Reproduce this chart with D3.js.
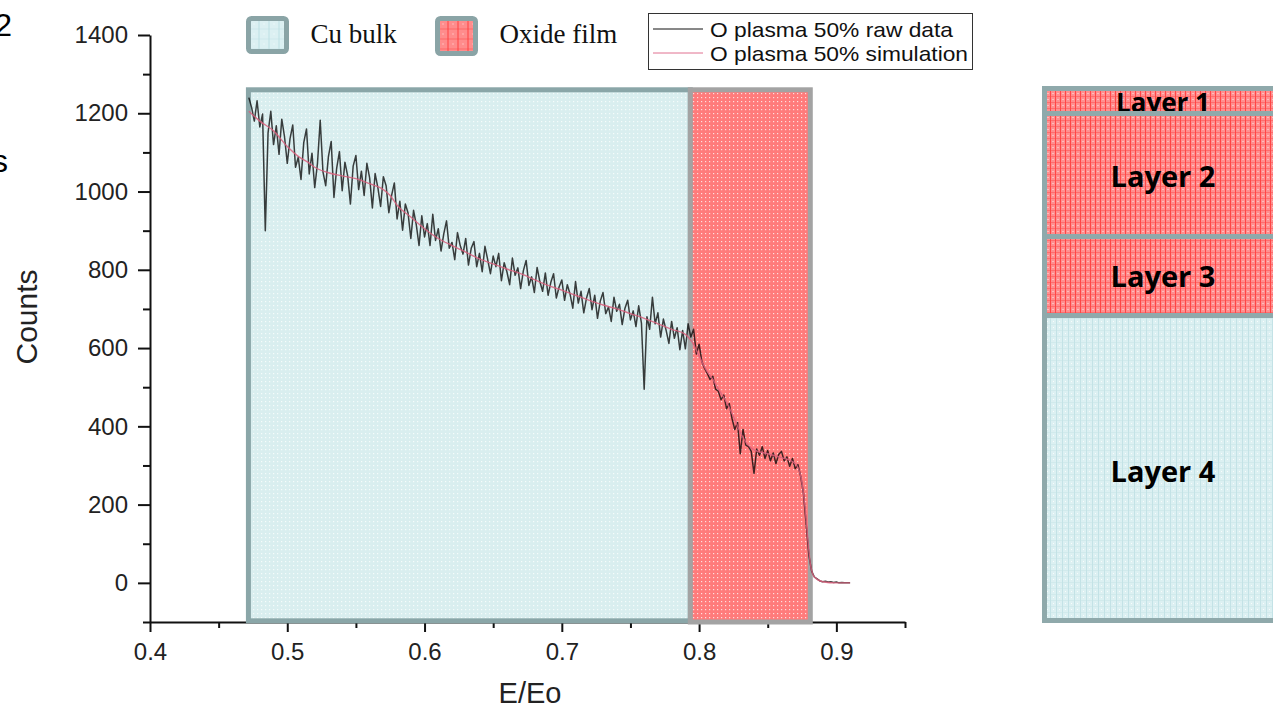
<!DOCTYPE html>
<html>
<head>
<meta charset="utf-8">
<script src="https://cdn.jsdelivr.net/npm/d3@7"></script>
<style>
html, body { margin: 0; padding: 0; background: #fff; overflow: hidden; }
svg { display: block; }
</style>
</head>
<body>
<svg id="chart" width="1273" height="710"></svg>
<script>
// raw spectrum, one value per channel (E/Eo step 0.002 starting at 0.472)
let rawStart = 0.472;
let rawStep = 0.002;
let rawCounts = [
    1240, 1215, 1180, 1232, 1165, 1198, 900, 1150, 1205, 1120, 1168, 1095, 1185, 1140, 1072,
    1135, 1170, 1062, 1088, 1031, 1125, 1160, 1045, 1098, 1010, 1072, 1182, 1050, 1015, 1090, 1128, 985, 1060, 1102, 1002, 1075, 1040, 968, 1065, 1092,
    1005, 1052, 990, 1072, 1035, 958, 1046, 1010, 962, 1038, 1015, 946, 990, 1022, 930, 975, 901, 968, 945, 880, 952, 915, 862, 938, 884,
    918, 862, 942, 875, 905, 848, 892, 925, 855, 870, 826, 895, 862, 840, 880, 812, 855, 872, 808, 842, 795, 860, 826, 790, 835,
    808, 842, 772, 818, 795, 762, 830, 786, 805, 752, 798, 824, 760, 782, 742, 806, 770, 745, 792, 735, 768, 790, 728, 756, 774,
    722, 762, 738, 702, 770, 715, 745, 690, 728, 752, 698, 735, 676, 720, 742, 688, 705, 668, 730, 694, 712, 660, 702, 722, 672,
    695, 655, 708, 664, 495, 680, 648, 730, 662, 690, 628, 674, 645, 612, 668, 625, 652, 596, 645, 598,
    662, 628, 648, 585, 610, 566, 548, 535, 520, 528, 495, 490, 468, 480, 445, 458, 420, 392, 410, 330, 392, 352, 348, 336, 280,
    342, 326, 348, 318, 338, 312, 332, 305, 328, 336, 312, 322, 298, 318, 292, 302, 272, 230, 150, 70, 30, 15, 10, 5, 3,
    4, 2, 3, 1, 2, 0, 1, 0, 0, 0
];

// simulated spectrum
let simE = [0.472, 0.480, 0.490, 0.500, 0.508, 0.515, 0.520, 0.530, 0.540, 0.550, 0.560, 0.570, 0.575, 0.580,
    0.590, 0.600, 0.610, 0.620, 0.630, 0.640, 0.650, 0.660, 0.670, 0.680, 0.690, 0.700, 0.710, 0.720, 0.730,
    0.740, 0.750, 0.760, 0.770, 0.780, 0.790, 0.795, 0.800, 0.805, 0.810, 0.815, 0.820, 0.825, 0.830, 0.835,
    0.840, 0.850, 0.860, 0.868, 0.872, 0.875, 0.877, 0.879, 0.881, 0.884, 0.890, 0.900, 0.910];
let simCounts = [1205, 1180, 1155, 1115, 1090, 1075, 1062, 1048, 1040, 1033, 1020, 1005, 990, 965,
    935, 905, 880, 862, 845, 828, 815, 802, 790, 775, 760, 748, 735, 722, 710,
    700, 688, 676, 662, 648, 635, 615, 580, 545, 520, 490, 462, 425, 385, 355,
    340, 330, 320, 310, 295, 255, 200, 120, 50, 15, 3, 0, 0];

// shaded regions
let regionNames = ["Cu bulk", "Oxide film"];
let regionStart = [0.4717, 0.7936];
let regionEnd = [0.7936, 0.881];
let regionTop = 1260;

let seriesNames = ["O plasma 50% raw data", "O plasma 50% simulation"];

let layerNames = ["Layer 1", "Layer 2", "Layer 3", "Layer 4"];
let layerKind = ["oxide", "oxide", "oxide", "cu"];

let xMajor = [0.4, 0.5, 0.6, 0.7, 0.8, 0.9];
let xMinor = [0.45, 0.55, 0.65, 0.75, 0.85, 0.95];
let yMajor = [0, 200, 400, 600, 800, 1000, 1200, 1400];
let yMinor = [-100, 100, 300, 500, 700, 900, 1100, 1300];

let svg = d3.select("#chart");
let sans = "'Liberation Sans', Arial, sans-serif";

let x = d3.scaleLinear().domain([0.4, 0.95]).range([150, 905]);
let y = d3.scaleLinear().domain([-100, 1400]).range([622, 35]);

// fill patterns
let defs = svg.append("defs");
function dotPattern(id, base, dot) {
    let p = defs.append("pattern").attr("id", id)
        .attr("width", 4).attr("height", 4)
        .attr("patternUnits", "userSpaceOnUse");
    p.append("rect").attr("width", 4).attr("height", 4).attr("fill", base);
    p.append("rect").attr("x", 1).attr("y", 1).attr("width", 1.2).attr("height", 1.2)
        .attr("fill", dot).attr("opacity", 0.75);
}
dotPattern("cuDots", "#d9eeef", "#ffffff");
dotPattern("oxDots", "#ff7b7b", "#ffffff");

function gridPattern(id, w, h, base, line, dot) {
    let p = defs.append("pattern").attr("id", id)
        .attr("width", w).attr("height", h)
        .attr("patternUnits", "userSpaceOnUse");
    p.append("rect").attr("width", w).attr("height", h).attr("fill", base);
    p.append("rect").attr("x", 0).attr("y", 0).attr("width", 1).attr("height", h).attr("fill", line);
    p.append("rect").attr("x", 0).attr("y", 0).attr("width", w).attr("height", 0.8).attr("fill", line).attr("opacity", 0.6);
    p.append("rect").attr("x", w / 2).attr("y", h / 2).attr("width", 1).attr("height", 1).attr("fill", dot).attr("opacity", 0.8);
}
gridPattern("cuGrid", 10, 10, "#dcf0f2", "#bcdfe3", "#ffffff");
gridPattern("oxGrid", 10, 10, "#ff8c8c", "#ff3f3f", "#ffffff");
gridPattern("oxLayer", 5, 6, "#ff8f8f", "#ff4646", "#ffffff");
gridPattern("cuLayer", 6, 6, "#dcf0f2", "#c3e2e6", "#ffffff");

// axes
let gy = svg.append("g").attr("transform", "translate(150,0)");
gy.call(d3.axisLeft(y).tickValues(yMinor).tickSize(7).tickSizeOuter(0).tickFormat(""));
gy.call(g => g.select(".domain").remove());
let gyMajor = svg.append("g").attr("transform", "translate(150,0)")
    .call(d3.axisLeft(y).tickValues(yMajor).tickSize(12).tickSizeOuter(0).tickPadding(10).tickFormat(d3.format("d")));

let gx = svg.append("g").attr("transform", "translate(0,622)");
gx.call(d3.axisBottom(x).tickValues(xMinor).tickSize(6).tickSizeOuter(0).tickFormat(""));
gx.call(g => g.select(".domain").remove());
let gxMajor = svg.append("g").attr("transform", "translate(0,622)")
    .call(d3.axisBottom(x).tickValues(xMajor).tickSize(10).tickSizeOuter(0).tickPadding(11).tickFormat(d3.format(".1f")));

svg.selectAll(".domain, .tick line").attr("stroke", "#111").attr("stroke-width", 2);
svg.selectAll(".tick text").attr("font-family", sans).attr("font-size", 24).attr("fill", "#222");

svg.append("text")
    .attr("transform", "translate(37,317) rotate(-90)")
    .attr("text-anchor", "middle")
    .attr("font-family", sans).attr("font-size", 30).attr("fill", "#222")
    .text("Counts");
svg.append("text")
    .attr("x", 530).attr("y", 703)
    .attr("text-anchor", "middle")
    .attr("font-family", sans).attr("font-size", 29).attr("fill", "#222")
    .text("E/Eo");

// shaded regions
let regionFill = ["url(#cuDots)", "url(#oxDots)"];
let regionStroke = ["#8aa6a8", "#a3a3a3"];
let regionBottom = [-97, -100];
svg.append("g").selectAll("rect")
    .data(regionNames)
    .enter().append("rect")
        .attr("x", (d, i) => x(regionStart[i]))
        .attr("y", y(regionTop))
        .attr("width", (d, i) => x(regionEnd[i]) - x(regionStart[i]))
        .attr("height", (d, i) => y(regionBottom[i]) - y(regionTop))
        .attr("fill", (d, i) => regionFill[i])
        .attr("stroke", (d, i) => regionStroke[i])
        .attr("stroke-width", 5);

// spectra
let rawData = rawCounts.map((c, i) => ({ e: rawStart + i * rawStep, c: c }));
let simData = simE.map((e, i) => ({ e: e, c: simCounts[i] }));

let rawLine = d3.line().x(d => x(d.e)).y(d => y(d.c));
let simLine = d3.line().x(d => x(d.e)).y(d => y(d.c)).curve(d3.curveMonotoneX);

svg.append("path")
    .datum(rawData)
    .attr("d", rawLine)
    .attr("fill", "none")
    .attr("stroke", "#000")
    .attr("stroke-opacity", 0.75)
    .attr("stroke-width", 1.5)
    .attr("stroke-linejoin", "round");

svg.append("path")
    .datum(simData)
    .attr("d", simLine)
    .attr("fill", "none")
    .attr("stroke", "#d9607c")
    .attr("stroke-opacity", 0.85)
    .attr("stroke-width", 1.4);

// region legend
let regionSwatch = ["url(#cuGrid)", "url(#oxGrid)"];
let regionLegendX = [248.5, 437.5];
let regionLegend = svg.append("g").selectAll("g")
    .data(regionNames)
    .enter().append("g")
        .attr("transform", (d, i) => `translate(${regionLegendX[i]},18.5)`);
regionLegend.append("rect")
    .attr("width", 38).attr("height", (d, i) => i === 0 ? 33 : 35)
    .attr("rx", 3)
    .attr("fill", (d, i) => regionSwatch[i])
    .attr("stroke", "#8aa4a6")
    .attr("stroke-width", 5);
regionLegend.append("text")
    .attr("x", 62).attr("y", 24)
    .attr("font-family", "'Liberation Serif', 'Times New Roman', serif")
    .attr("font-size", 27).attr("fill", "#111")
    .text(d => d);

// series legend
let seriesColor = ["#111", "#e07090"];
let seriesLen = [243, 258];
svg.append("rect")
    .attr("x", 648.5).attr("y", 13.5).attr("width", 324).attr("height", 56)
    .attr("fill", "#fff").attr("stroke", "#333").attr("stroke-width", 1);
let seriesLegend = svg.append("g").selectAll("g")
    .data(seriesNames)
    .enter().append("g")
        .attr("transform", (d, i) => `translate(0,${i * 24})`);
seriesLegend.append("line")
    .attr("x1", 653).attr("x2", 703).attr("y1", 29).attr("y2", 29)
    .attr("stroke", (d, i) => seriesColor[i]).attr("stroke-width", 1);
seriesLegend.append("text")
    .attr("x", 710).attr("y", 37)
    .attr("font-family", sans).attr("font-size", 21).attr("fill", "#111")
    .attr("textLength", (d, i) => seriesLen[i])
    .attr("lengthAdjust", "spacingAndGlyphs")
    .text(d => d);

// layer stack panel
let layerTop = [91, 116, 239, 318];
let layerBottom = [111, 234, 313, 618];
let layerBase = [112, 187, 287, 482];
svg.append("rect")
    .attr("x", 1042).attr("y", 86).attr("width", 240).attr("height", 537)
    .attr("fill", "#8fa9ab");
layerNames.forEach((name, i) => {
    defs.append("clipPath").attr("id", "layerClip" + i)
        .append("rect")
            .attr("x", 1047).attr("y", layerTop[i])
            .attr("width", 235).attr("height", layerBottom[i] - layerTop[i]);
});
let layer = svg.append("g").selectAll("g")
    .data(layerNames)
    .enter().append("g")
        .attr("clip-path", (d, i) => `url(#layerClip${i})`);
layer.append("rect")
    .attr("x", 1047).attr("y", (d, i) => layerTop[i])
    .attr("width", 235).attr("height", (d, i) => layerBottom[i] - layerTop[i])
    .attr("fill", (d, i) => layerKind[i] === "oxide" ? "url(#oxLayer)" : "url(#cuLayer)");
layer.append("text")
    .attr("x", 1163).attr("y", (d, i) => layerBase[i])
    .attr("text-anchor", "middle")
    .attr("font-family", "'Open Sans', sans-serif").attr("font-weight", 700)
    .attr("font-size", (d, i) => i === 0 ? 26 : 29).attr("fill", "#000")
    .text(d => d);

// fragments of the neighbouring panel, cut by the image edge
svg.append("text").attr("x", 12).attr("y", 36).attr("text-anchor", "end")
    .attr("font-family", sans).attr("font-size", 32).attr("fill", "#000").text("2");
svg.append("text").attr("x", 8).attr("y", 172).attr("text-anchor", "end")
    .attr("font-family", sans).attr("font-size", 32).attr("fill", "#000").text("s");
</script>
</body>
</html>
